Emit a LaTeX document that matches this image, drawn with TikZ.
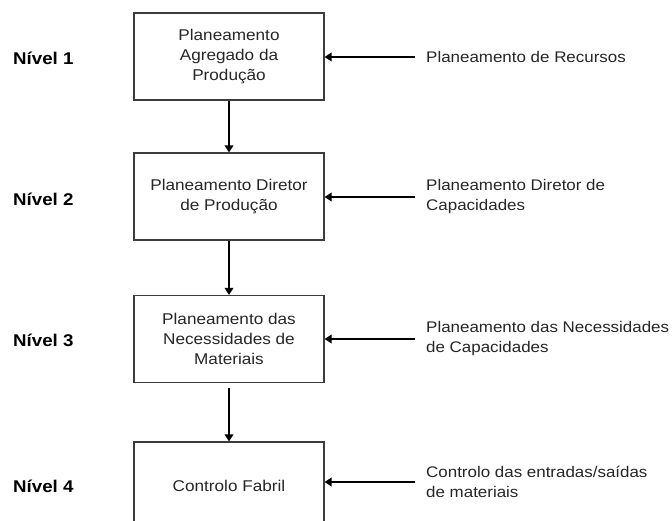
\documentclass[tikz,border=0pt]{standalone}
\usepackage{fontspec}
\setmainfont{Liberation Sans}[FakeStretch=1.1]
\usetikzlibrary{arrows.meta}
\definecolor{ink}{HTML}{262626}
\begin{document}
\begin{tikzpicture}[x=1pt,y=-1pt,
  level/.style={draw=ink!90,line width=1.1pt,minimum width=190pt,minimum height=87pt,
    inner sep=0pt,align=center,text=ink,font=\fontsize{15.6}{20}\selectfont},
  lvl/.style={anchor=west,inner sep=0pt,font=\fontsize{17}{20}\selectfont\bfseries},
  src/.style={anchor=west,inner xsep=11pt,inner ysep=0pt,align=left,text=ink,
    font=\fontsize{15.4}{20}\selectfont},
  arr/.style={line width=2.8pt,-{Triangle[width=8.5pt,length=7pt]}}]
\useasboundingbox (0,0) rectangle (672,521);
\clip (0,0) rectangle (672,521);

% planning levels
\node[level] (b1) at (229,56.5) {Planeamento\\Agregado da\\Produção};
\node[level] (b2) at (229,196.5) {Planeamento Diretor\\de Produção};
\node[level] (b3) at (229,339) {Planeamento das\\Necessidades de\\Materiais};
\node[level] (b4) at (229,485.5) {Controlo Fabril};

% level names
\node[lvl] (n1) at (13,58) {Nível 1};
\node[lvl] (n2) at (13,199) {Nível 2};
\node[lvl] (n3) at (13,340) {Nível 3};
\node[lvl] (n4) at (13,486) {Nível 4};

% capacity inputs
\node[src] (r1) at (415,57) {Planeamento de Recursos};
\node[src] (r2) at (415,197) {Planeamento Diretor de\\Capacidades};
\node[src] (r3) at (415,339) {Planeamento das Necessidades\\de Capacidades};
\node[src] (r4) at (415,482) {Controlo das entradas/saídas\\de materiais};

% flow between levels
\draw[arr] (b1.south) -- (b2.north);
\draw[arr] (b2.south) -- (b3.north);
\draw[arr,shorten <=5pt] (b3.south) -- (b4.north);

% inputs into each level
\draw[arr] (r1.west) -- (r1.west -| b1.east);
\draw[arr] (r2.west) -- (r2.west -| b2.east);
\draw[arr] (r3.west) -- (r3.west -| b3.east);
\draw[arr] (r4.west) -- (r4.west -| b4.east);
\end{tikzpicture}
\end{document}
